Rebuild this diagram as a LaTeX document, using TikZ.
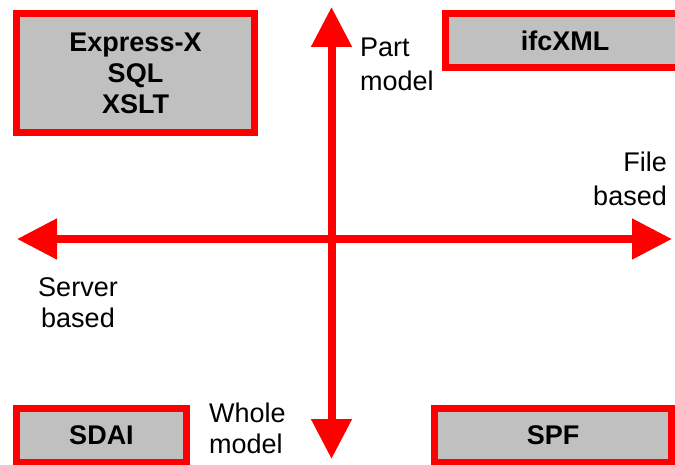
\documentclass[tikz,border=0pt]{standalone}
\usepackage{fontspec}
\setmainfont{Liberation Sans}
\usetikzlibrary{arrows.meta}
\definecolor{axisred}{HTML}{FF0000}
\definecolor{boxgray}{HTML}{C0C0C0}
\tikzset{
  techbox/.style={draw=axisred, fill=boxgray, line width=7pt, inner sep=0pt,
    align=center, font=\bfseries\fontsize{27}{31}\selectfont},
  axisarrow/.style={draw=axisred, line width=8pt,
    {Triangle[length=40pt,width=39pt]}-{Triangle[length=40pt,width=39pt]}},
  axislabel/.style={inner sep=0pt, font=\fontsize{27}{33.5}\selectfont}
}
\begin{document}
\begin{tikzpicture}[x=1pt,y=-1pt]
\useasboundingbox (0,0) rectangle (675,465);
\clip (0,0) rectangle (675,465);
% axes
\coordinate (top) at (331.5,7);
\coordinate (bottom) at (331.5,459);
\coordinate (left) at (17,239);
\coordinate (right) at (672,239);
\draw[axisarrow] (left) -- (right);
\draw[axisarrow] (bottom) -- (top);
% boxes
\node[techbox, minimum width=238pt, minimum height=119pt] (express) at (135.5,73) {Express-X\\SQL\\XSLT};
\node[techbox, minimum width=239pt, minimum height=54pt] (ifcxml) at (565,40.5) {ifcXML};
\node[techbox, minimum width=170pt, minimum height=54pt] (sdai) at (101.5,435.5) {SDAI};
\node[techbox, minimum width=237pt, minimum height=54pt] (spf) at (553,435.5) {SPF};
% labels
\node[axislabel, anchor=north west, align=left] (part) at (360,38) {Part\\model};
\node[axislabel, anchor=north east, align=right, font=\fontsize{27}{34}\selectfont] (file) at (667,152) {File\\based};
\node[axislabel, anchor=north, align=center, font=\fontsize{27}{31}\selectfont] (server) at (78,277) {Server\\based};
\node[axislabel, anchor=north west, align=left, font=\fontsize{27}{31}\selectfont] (whole) at (209,403) {Whole\\model};
\end{tikzpicture}
\end{document}
